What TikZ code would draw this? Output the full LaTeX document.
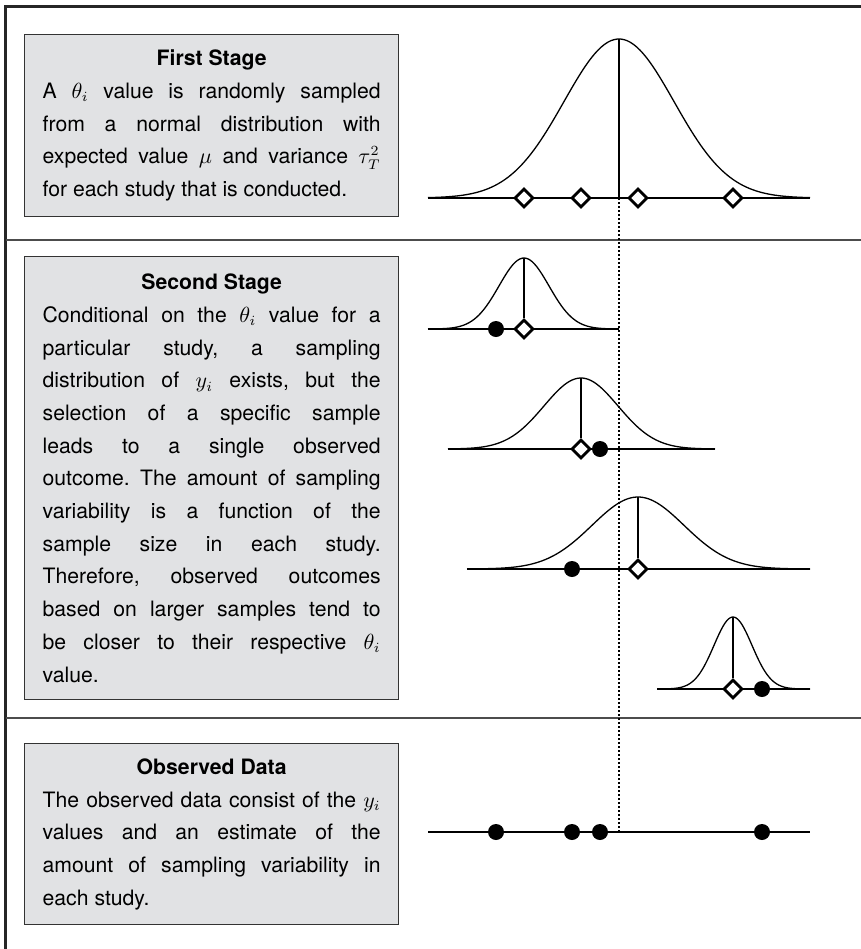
\documentclass[tikz,border=0pt]{standalone}
\usepackage{fontspec}
\setmainfont{TeX Gyre Heros}
\usetikzlibrary{shapes.geometric}
\definecolor{boxgray}{RGB}{225,226,228}

\begin{document}
\begin{tikzpicture}[x=0.5pt,y=-0.5pt,
 box/.style={draw=black!80,line width=0.65pt,fill=boxgray,anchor=north west,align=justify,text width=169pt,inner xsep=9pt,inner ysep=0pt,font=\fontsize{10.6}{16.35}\selectfont\frenchspacing},
 outer/.style={line width=1.6pt,black!85},
 divider/.style={line width=0.7pt,black!70},
 axisline/.style={line width=0.8pt},
 bell/.style={line width=0.65pt},
 meanline/.style={line width=0.55pt,dash pattern=on 1pt off 1pt},
 est/.style={diamond,draw,line width=1.4pt,fill=white,inner sep=0pt,minimum size=9.5pt},
 obs/.style={circle,fill=black,inner sep=0pt,minimum size=8pt}]
\useasboundingbox (0,0) rectangle (861,949);
\draw[outer] (5.7,949) -- (5.7,6.7) -- (861,6.7);
\draw[divider] (5.7,240) -- (861,240);
\draw[divider] (5.7,718) -- (861,718);
% text panels
\node[box,minimum height=91pt] (first) at (24,34)
 {\makebox[\linewidth]{\textbf{First Stage}}\par
 A $\theta_i$ value is randomly sampled\linebreak from a normal distribution with\linebreak expected value $\mu$ and variance $\tau_T^2$\linebreak for each study that is conducted.};
\node[box,minimum height=221.5pt] (second) at (24,256)
 {\makebox[\linewidth]{\textbf{Second Stage}}\par
 Conditional on the $\theta_i$ value for a\linebreak particular study, a sampling\linebreak distribution of $y_i$ exists, but the\linebreak selection of a specific sample\linebreak leads to a single observed\linebreak outcome. The amount of sampling\linebreak variability is a function of the\linebreak sample size in each study.\linebreak Therefore, observed outcomes\linebreak based on larger samples tend to\linebreak be closer to their respective $\theta_i$\linebreak value.};
\node[box,minimum height=90.5pt] (observed) at (24,743)
 {\makebox[\linewidth]{\textbf{Observed Data}}\par
 The observed data consist of the $y_i$\linebreak values and an estimate of the\linebreak amount of sampling variability in\linebreak each study.};
% mean of the theta distribution
\coordinate (mu) at (619,198);
\coordinate (muend) at (619,832);
\draw[meanline] (mu) -- (muend);
% first stage
\draw[axisline] (428,198) -- (810,198);
\draw[bell] plot[domain=428:810,samples=120] (\x,{198-159*exp(-((\x-619)/55)^2/2)});
\coordinate (top0) at (619,39);
\draw[bell] (top0) -- (mu);
\node[est] (t1) at (524,198) {};
\node[est] (t2) at (581,198) {};
\node[est] (t3) at (638,198) {};
\node[est] (t4) at (733,198) {};
% second stage, one curve per study
\draw[axisline] (428,329) -- (619,329);
\draw[bell] plot[domain=428:619,samples=80] (\x,{329-71*exp(-((\x-524)/25)^2/2)});
\node[obs] (y1) at (496,329) {};
\node[est] (th1) at (524,329) {};
\coordinate (top1) at (524,258);
\draw[bell] (top1) -- (th1);
\draw[axisline] (448,449) -- (715,449);
\draw[bell] plot[domain=448:715,samples=100] (\x,{449-71*exp(-((\x-581)/37)^2/2)});
\node[est] (th2) at (581,449) {};
\node[obs] (y2) at (600,449) {};
\coordinate (top2) at (581,378);
\draw[bell] (top2) -- (th2);
\draw[axisline] (467,569) -- (810,569);
\draw[bell] plot[domain=467:810,samples=120] (\x,{569-72*exp(-((\x-638)/46)^2/2)});
\node[obs] (y3) at (572,569) {};
\node[est] (th3) at (638,569) {};
\coordinate (top3) at (638,497);
\draw[bell] (top3) -- (th3);
\draw[axisline] (657,689) -- (810,689);
\draw[bell] plot[domain=657:810,samples=80] (\x,{689-72*exp(-((\x-733)/19)^2/2)});
\node[est] (th4) at (733,689) {};
\node[obs] (y4) at (762,689) {};
\coordinate (top4) at (733,617);
\draw[bell] (top4) -- (th4);
% observed data
\draw[axisline] (428,832) -- (810,832);
\node[obs] (d1) at (496,832) {};
\node[obs] (d2) at (572,832) {};
\node[obs] (d3) at (600,832) {};
\node[obs] (d4) at (762,832) {};
\end{tikzpicture}
\end{document}
